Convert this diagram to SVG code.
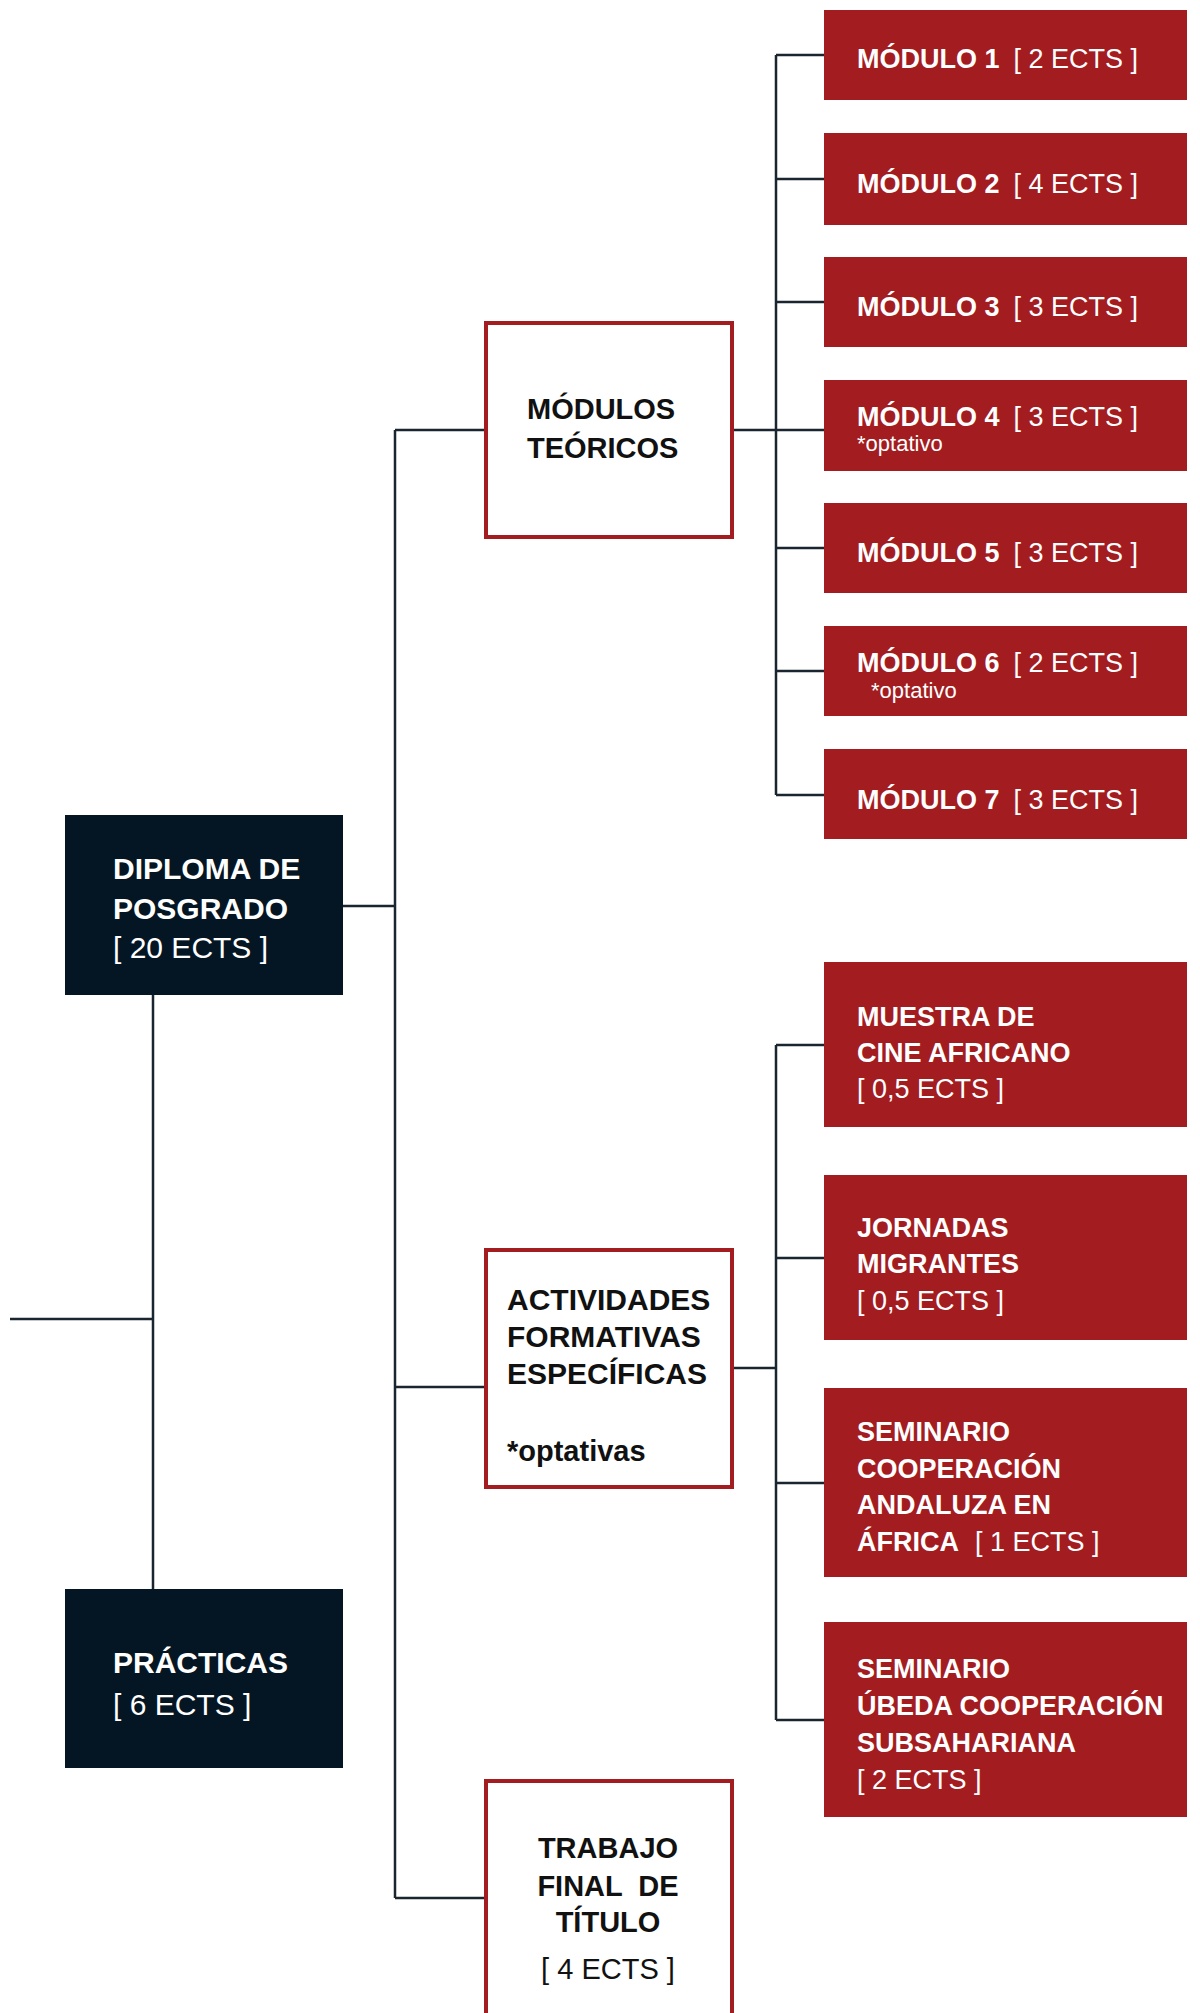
<svg xmlns="http://www.w3.org/2000/svg" width="1200" height="2013" viewBox="0 0 1200 2013">
<style>
text{font-family:"Liberation Sans",Arial,sans-serif;}
.dark{fill:#041623;}
.red{fill:#a31c20;}
.out{fill:#fff;stroke:#a31c20;stroke-width:4;}
.w{fill:#fff;}
.k{fill:#111;}
.b{font-weight:bold;}
.r{font-weight:normal;}
.h{font-size:30px;}
.m{font-size:27px;}
.s{font-size:22px;}
.ln{stroke:#1a2530;stroke-width:2.5;fill:none;}
</style>
<rect width="1200" height="2013" fill="#fff"/>
<g id="connectors" class="ln">
<path d="M10 1319H153M153 995V1589"/>
<path d="M343 906H395M395 430V1898"/>
<path d="M395 430H486M395 1387H486M395 1898H486"/>
<path d="M732 430H824M776 55V795M776 55H824M776 179H824M776 302H824M776 548H824M776 671H824M776 795H824"/>
<path d="M732 1368H776M776 1045V1720M776 1045H824M776 1258H824M776 1483H824M776 1720H824"/>
</g>
<g id="diploma">
<rect class="dark" x="65" y="815" width="278" height="180"/>
<text class="w b h" x="113" y="879">DIPLOMA DE</text>
<text class="w b h" x="113" y="919">POSGRADO</text>
<text class="w r h" x="113" y="958">[ 20 ECTS ]</text>
</g>
<g id="practicas">
<rect class="dark" x="65" y="1589" width="278" height="179"/>
<text class="w b h" x="113" y="1673">PRÁCTICAS</text>
<text class="w r h" x="113" y="1715">[ 6 ECTS ]</text>
</g>
<g id="modulos-teoricos">
<rect class="out" x="486" y="323" width="246" height="214"/>
<text class="k b" font-size="29" x="527" y="419">MÓDULOS</text>
<text class="k b" font-size="29" x="527" y="458">TEÓRICOS</text>
</g>
<g id="actividades">
<rect class="out" x="486" y="1250" width="246" height="237"/>
<text class="k b h" x="507" y="1310">ACTIVIDADES</text>
<text class="k b h" x="507" y="1347">FORMATIVAS</text>
<text class="k b h" x="507" y="1384">ESPECÍFICAS</text>
<text class="k b" font-size="29" x="507" y="1461">*optativas</text>
</g>
<g id="trabajo">
<rect class="out" x="486" y="1781" width="246" height="240"/>
<text class="k b" font-size="29" x="608" y="1858" text-anchor="middle">TRABAJO</text>
<text class="k b" font-size="29" x="608" y="1896" text-anchor="middle" xml:space="preserve">FINAL  DE</text>
<text class="k b" font-size="29" x="608" y="1932" text-anchor="middle">TÍTULO</text>
<text class="k r" font-size="29" x="608" y="1979" text-anchor="middle">[ 4 ECTS ]</text>
</g>
<g id="modulo1">
<rect class="red" x="824" y="10" width="363" height="90"/>
<text class="w m" x="857" y="68"><tspan class="b">MÓDULO 1</tspan><tspan class="r" dx="14">[ 2 ECTS ]</tspan></text>
</g>
<g id="modulo2">
<rect class="red" x="824" y="133" width="363" height="92"/>
<text class="w m" x="857" y="193"><tspan class="b">MÓDULO 2</tspan><tspan class="r" dx="14">[ 4 ECTS ]</tspan></text>
</g>
<g id="modulo3">
<rect class="red" x="824" y="257" width="363" height="90"/>
<text class="w m" x="857" y="316"><tspan class="b">MÓDULO 3</tspan><tspan class="r" dx="14">[ 3 ECTS ]</tspan></text>
</g>
<g id="modulo4">
<rect class="red" x="824" y="380" width="363" height="91"/>
<text class="w m" x="857" y="426"><tspan class="b">MÓDULO 4</tspan><tspan class="r" dx="14">[ 3 ECTS ]</tspan></text>
<text class="w r s" x="857" y="451">*optativo</text>
</g>
<g id="modulo5">
<rect class="red" x="824" y="503" width="363" height="90"/>
<text class="w m" x="857" y="562"><tspan class="b">MÓDULO 5</tspan><tspan class="r" dx="14">[ 3 ECTS ]</tspan></text>
</g>
<g id="modulo6">
<rect class="red" x="824" y="626" width="363" height="90"/>
<text class="w m" x="857" y="672"><tspan class="b">MÓDULO 6</tspan><tspan class="r" dx="14">[ 2 ECTS ]</tspan></text>
<text class="w r s" x="871" y="698">*optativo</text>
</g>
<g id="modulo7">
<rect class="red" x="824" y="749" width="363" height="90"/>
<text class="w m" x="857" y="809"><tspan class="b">MÓDULO 7</tspan><tspan class="r" dx="14">[ 3 ECTS ]</tspan></text>
</g>
<g id="muestra">
<rect class="red" x="824" y="962" width="363" height="165"/>
<text class="w b m" x="857" y="1026">MUESTRA DE</text>
<text class="w b m" x="857" y="1062">CINE AFRICANO</text>
<text class="w r m" x="857" y="1098">[ 0,5 ECTS ]</text>
</g>
<g id="jornadas">
<rect class="red" x="824" y="1175" width="363" height="165"/>
<text class="w b m" x="857" y="1237">JORNADAS</text>
<text class="w b m" x="857" y="1273">MIGRANTES</text>
<text class="w r m" x="857" y="1310">[ 0,5 ECTS ]</text>
</g>
<g id="seminario-andaluza">
<rect class="red" x="824" y="1388" width="363" height="189"/>
<text class="w b m" x="857" y="1441">SEMINARIO</text>
<text class="w b m" x="857" y="1478">COOPERACIÓN</text>
<text class="w b m" x="857" y="1514">ANDALUZA EN</text>
<text class="w m" x="857" y="1551"><tspan class="b">ÁFRICA</tspan><tspan class="r" dx="16">[ 1 ECTS ]</tspan></text>
</g>
<g id="seminario-ubeda">
<rect class="red" x="824" y="1622" width="363" height="195"/>
<text class="w b m" x="857" y="1678">SEMINARIO</text>
<text class="w b m" x="857" y="1715">ÚBEDA COOPERACIÓN</text>
<text class="w b m" x="857" y="1752">SUBSAHARIANA</text>
<text class="w r m" x="857" y="1789">[ 2 ECTS ]</text>
</g>
</svg>
